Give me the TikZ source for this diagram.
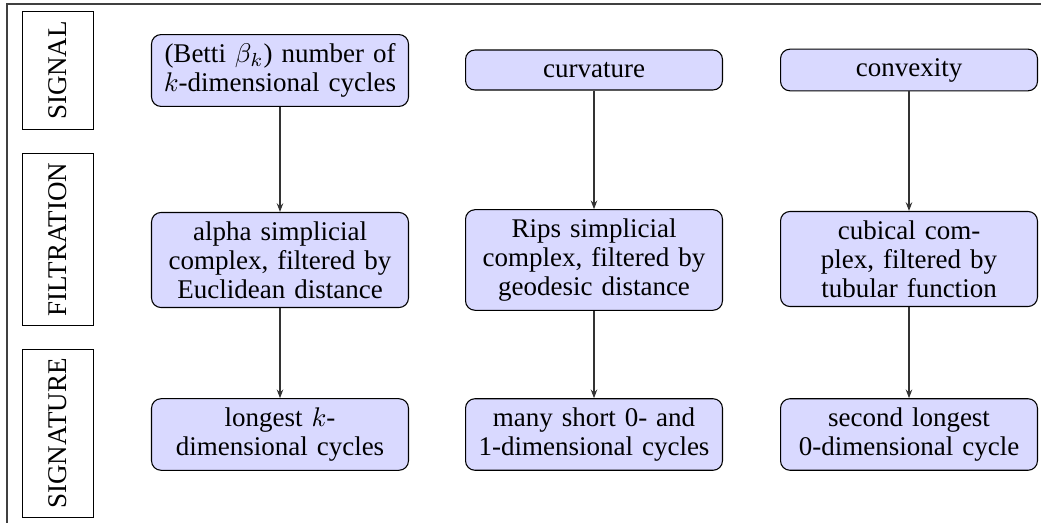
\documentclass[tikz,border=0pt]{standalone}
\usepackage{fontspec}
\setmainfont{Liberation Serif}
\usetikzlibrary{arrows.meta}
\begin{document}
\begin{tikzpicture}[x=0.37037pt,y=-0.37037pt,
  font=\fontsize{10}{10.75}\selectfont,
  stagebox/.style={draw=black, fill=blue!15, rounded corners=3.5pt,
    text width=88.5pt, align=center, minimum height=14.8pt, inner sep=3.33pt},
  rowlabel/.style={draw=black, rotate=90, minimum height=26.1pt, inner sep=3.5pt},
  flow/.style={draw=black!80, -{Stealth[length=3.2pt,width=2.4pt]}}
]
\useasboundingbox (0,0) rectangle (1041,523);
\draw[black!75] (1045,4) -- (7,4) -- (7,527);

\node[rowlabel] (lsig) at (58,70.5) {SIGNAL};
\node[rowlabel] (lfil) at (58,239.5) {FILTRATION};
\node[rowlabel] (lsgn) at (58,433.5) {SIGNATURE};

\node[stagebox] (s1) at (280,70.5) {(Betti $\beta_k$) number of\\$k$-dimensional cycles};
\node[stagebox] (s2) at (594,70) {curvature};
\node[stagebox] (s3) at (909,70) {convexity};

\node[stagebox] (f1) at (280,260) {alpha simplicial\\complex, filtered by\\Euclidean distance};
\node[stagebox] (f2) at (594,260) {Rips simplicial\\complex, filtered by\\geodesic distance};
\node[stagebox] (f3) at (909,259) {cubical com-\\plex, filtered by\\tubular function};

\node[stagebox] (g1) at (280,434.5) {longest $k$-\\dimensional cycles};
\node[stagebox] (g2) at (594,434.5) {many short 0- and\\1-dimensional cycles};
\node[stagebox] (g3) at (909,434.5) {second longest\\0-dimensional cycle};

\draw[flow] (s1) -- (f1);
\draw[flow] (s2) -- (f2);
\draw[flow] (s3) -- (f3);
\draw[flow] (f1) -- (g1);
\draw[flow] (f2) -- (g2);
\draw[flow] (f3) -- (g3);
\end{tikzpicture}
\end{document}
